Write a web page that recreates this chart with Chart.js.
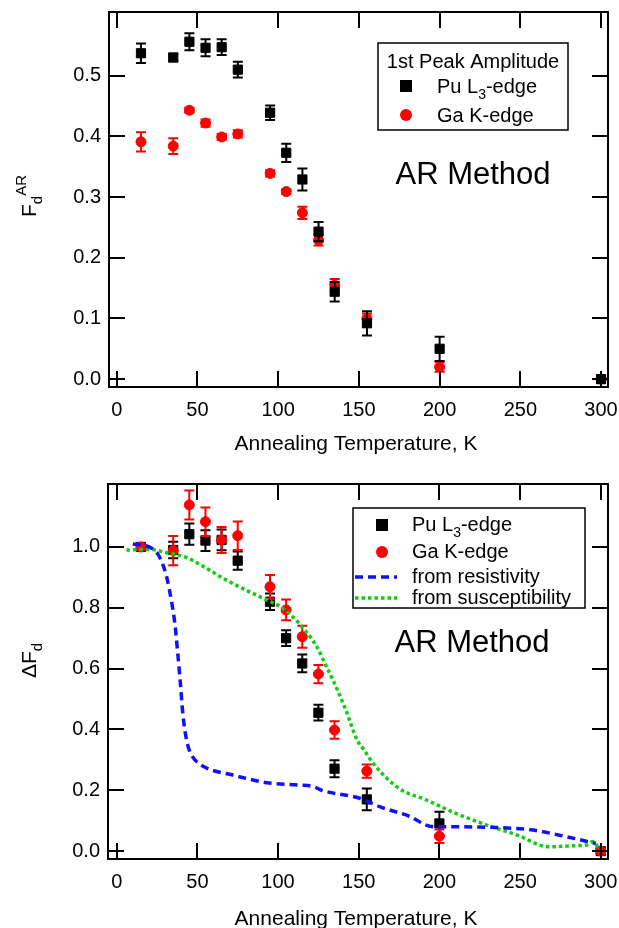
<!DOCTYPE html>
<html>
<head>
<meta charset="utf-8">
<title>AR Method - Fd vs annealing temperature</title>
<script src="https://cdn.jsdelivr.net/npm/chart.js@4.4.0/dist/chart.umd.min.js"></script>
<style>
  html, body { margin: 0; padding: 0; background: #fff; }
  .panel { position: absolute; left: 0; width: 619px; height: 464px; }
  #top { top: 0; }
  #bottom { top: 464px; }
</style>
</head>
<body>
<div class="panel" id="top"><canvas id="chartAmp" width="619" height="464"></canvas></div>
<div class="panel" id="bottom"><canvas id="chartDelta" width="619" height="464"></canvas></div>
<script>
// annealing temperatures (K), same for both edges
const temps = [15, 35, 45, 55, 65, 75, 95, 105, 115, 125, 135, 155, 200, 300];
const xTicks = [0, 50, 100, 150, 200, 250, 300];
const ampTicks = [0, 0.1, 0.2, 0.3, 0.4, 0.5];
const deltaTicks = [0, 0.2, 0.4, 0.6, 0.8, 1.0];

// top panel: 1st peak amplitude F_d^AR
const puAmp    = [0.537, 0.530, 0.556, 0.546, 0.547, 0.510, 0.439, 0.373, 0.329, 0.243, 0.144, 0.092, 0.050, 0.000];
const puAmpErr = [0.016, 0.006, 0.014, 0.014, 0.013, 0.013, 0.012, 0.015, 0.018, 0.016, 0.016, 0.020, 0.020, 0.006];
const gaAmp    = [0.391, 0.384, 0.443, 0.422, 0.399, 0.404, 0.339, 0.309, 0.274, 0.229, 0.155, 0.100, 0.020, 0.000];
const gaAmpErr = [0.016, 0.013, 0.004, 0.006, 0.005, 0.006, 0.005, 0.004, 0.010, 0.009, 0.010, 0.008, 0.008, 0.004];

// bottom panel: normalised ΔF_d
const puDelta    = [1.000, 0.990, 1.042, 1.021, 1.023, 0.955, 0.820, 0.700, 0.617, 0.455, 0.271, 0.170, 0.091, 0.000];
const puDeltaErr = [0.010, 0.027, 0.035, 0.034, 0.034, 0.030, 0.027, 0.026, 0.029, 0.026, 0.028, 0.036, 0.038, 0.008];
const gaDelta    = [1.000, 0.988, 1.138, 1.083, 1.023, 1.037, 0.869, 0.793, 0.705, 0.582, 0.398, 0.263, 0.049, 0.000];
const gaDeltaErr = [0.010, 0.048, 0.048, 0.047, 0.043, 0.047, 0.039, 0.034, 0.036, 0.030, 0.029, 0.022, 0.022, 0.008];

// comparison curves
const resT   = [10, 20, 25, 28, 31, 34, 36, 38, 39.5, 41, 43.5, 45.5, 48.5, 55, 72, 93, 113, 122, 127, 146, 151, 163, 182, 194, 204, 233, 258, 279, 297];
const resVal = [1.01, 1.0, 0.98, 0.95, 0.90, 0.82, 0.75, 0.64, 0.55, 0.45, 0.36, 0.325, 0.30, 0.275, 0.25, 0.225, 0.217, 0.212, 0.20, 0.18, 0.173, 0.146, 0.113, 0.082, 0.080, 0.078, 0.069, 0.047, 0.025];
const susT   = [6, 20, 31, 43, 53, 68, 82, 93, 103, 113, 124, 130, 134, 142, 149, 153, 159, 175, 192, 208, 229, 250, 262, 268, 285, 291, 295, 299];
const susVal = [0.99, 0.992, 0.981, 0.966, 0.938, 0.891, 0.853, 0.826, 0.798, 0.749, 0.672, 0.606, 0.563, 0.464, 0.365, 0.335, 0.288, 0.206, 0.168, 0.129, 0.086, 0.049, 0.020, 0.014, 0.018, 0.020, 0.031, 0.010];

const FONT = '"Liberation Sans", Arial, Helvetica, sans-serif';
Chart.defaults.font.family = FONT;
Chart.defaults.color = '#000';

const RED = '#ff0000', BLUE = '#1010ff', GREEN = '#11cc11';

function pts(xs, ys){ return xs.map((x, i) => ({ x, y: ys[i] })); }

// text with sub/superscript parts, left aligned from x
function richText(ctx, parts, x, y, size){
  parts.forEach(p => {
    const s = (p.sub || p.sup) ? Math.round(size * 0.7) : size;
    ctx.font = s + 'px ' + FONT;
    const dy = p.sub ? size * 0.28 : p.sup ? -size * 0.5 : 0;
    ctx.fillText(p.t, x, y + dy);
    x += ctx.measureText(p.t).width;
  });
  return x;
}

function drawLegend(ctx, lg){
  ctx.save();
  ctx.fillStyle = '#fff';
  ctx.fillRect(lg.box[0], lg.box[1], lg.box[2], lg.box[3]);
  ctx.strokeStyle = '#000';
  ctx.lineWidth = 1.5;
  ctx.strokeRect(lg.box[0], lg.box[1], lg.box[2], lg.box[3]);
  ctx.textAlign = 'left';
  ctx.textBaseline = 'alphabetic';
  if (lg.title){
    ctx.fillStyle = '#000';
    ctx.font = '20px ' + FONT;
    ctx.textAlign = 'center';
    ctx.fillText(lg.title, lg.box[0] + lg.box[2] / 2, lg.titleY);
    ctx.textAlign = 'left';
  }
  lg.items.forEach(it => {
    const my = it.my;
    if (it.kind === 'rect'){
      ctx.fillStyle = it.color;
      ctx.fillRect(lg.mx - 6, my - 6, 12, 12);
    } else if (it.kind === 'circle'){
      ctx.fillStyle = it.color;
      ctx.beginPath(); ctx.arc(lg.mx, my, 6, 0, Math.PI * 2); ctx.fill();
    } else {
      ctx.strokeStyle = it.color;
      ctx.lineWidth = 3.5;
      ctx.setLineDash(it.dash);
      ctx.beginPath(); ctx.moveTo(lg.lx[0], my); ctx.lineTo(lg.lx[1], my); ctx.stroke();
      ctx.setLineDash([]);
    }
    ctx.fillStyle = '#000';
    richText(ctx, it.label, lg.tx, it.ty, 20);
  });
  ctx.restore();
}

// error bars, boxed frame with inward ticks, titles, legend and note
const decor = {
  id: 'decor',
  beforeDatasetDraw(chart, args){
    const ds = chart.data.datasets[args.index];
    if (!ds.errors) return;
    const { ctx, scales: { x, y } } = chart;
    ctx.save();
    ctx.strokeStyle = ds.backgroundColor;
    ctx.lineWidth = 2;
    ctx.beginPath();
    ds.data.forEach((p, i) => {
      const px = x.getPixelForValue(p.x);
      const y1 = y.getPixelForValue(p.y + ds.errors[i]);
      const y2 = y.getPixelForValue(p.y - ds.errors[i]);
      ctx.moveTo(px, y1); ctx.lineTo(px, y2);
      ctx.moveTo(px - 5, y1); ctx.lineTo(px + 5, y1);
      ctx.moveTo(px - 5, y2); ctx.lineTo(px + 5, y2);
    });
    ctx.stroke();
    ctx.restore();
  },
  afterDraw(chart, args, o){
    const { ctx, chartArea: a, scales: { x, y } } = chart;
    ctx.save();
    ctx.strokeStyle = '#000';
    ctx.lineWidth = 2;
    ctx.strokeRect(a.left, a.top, a.right - a.left, a.bottom - a.top);
    ctx.beginPath();
    x.ticks.forEach(t => {
      const px = Math.round(x.getPixelForValue(t.value));
      ctx.moveTo(px, a.bottom); ctx.lineTo(px, a.bottom - 16);
      ctx.moveTo(px, a.top); ctx.lineTo(px, a.top + 16);
    });
    y.ticks.forEach(t => {
      const py = Math.round(y.getPixelForValue(t.value));
      ctx.moveTo(a.left, py); ctx.lineTo(a.left + 16, py);
      ctx.moveTo(a.right, py); ctx.lineTo(a.right - 16, py);
    });
    ctx.stroke();

    ctx.fillStyle = '#000';
    ctx.textBaseline = 'alphabetic';
    ctx.textAlign = 'center';
    ctx.font = '21px ' + FONT;
    ctx.fillText('Annealing Temperature, K', o.xTitle[0], o.xTitle[1]);

    // rotated y title
    ctx.save();
    ctx.translate(o.yTitle[0], o.yTitle[1]);
    ctx.rotate(-Math.PI / 2);
    ctx.textAlign = 'left';
    richText(ctx, o.yParts, 0, 0, 21);
    ctx.restore();

    ctx.textAlign = 'center';
    ctx.font = '31px ' + FONT;
    ctx.fillText('AR Method', o.note[0], o.note[1]);
    ctx.restore();

    drawLegend(ctx, o.legend);
  }
};

function xAxis(min, max, h){
  return {
    type: 'linear', min, max,
    grid: { display: false, drawTicks: false }, border: { display: false },
    ticks: { font: { size: 20 }, padding: 11, color: '#000', maxRotation: 0, autoSkip: false },
    afterBuildTicks: s => { s.ticks = xTicks.map(v => ({ value: v })); },
    afterFit: s => { s.height = h; s.paddingLeft = 0; s.paddingRight = 0; }
  };
}

function yAxis(min, max, ticks, w){
  return {
    type: 'linear', min, max,
    grid: { display: false, drawTicks: false }, border: { display: false },
    ticks: { font: { size: 20 }, padding: 8, color: '#000', autoSkip: false, callback: v => v.toFixed(1) },
    afterBuildTicks: s => { s.ticks = ticks.map(v => ({ value: v })); },
    afterFit: s => { s.width = w; s.paddingTop = 0; s.paddingBottom = 0; }
  };
}

const base = { responsive: false, animation: false, devicePixelRatio: 1, events: [] };

new Chart(document.getElementById('chartAmp'), {
  type: 'scatter',
  data: { datasets: [
    { label: 'Pu L3-edge', data: pts(temps, puAmp), errors: puAmpErr, order: 0,
      pointStyle: 'rect', pointRadius: 6.5, backgroundColor: '#000', borderColor: '#000', borderWidth: 1 },
    { label: 'Ga K-edge', data: pts(temps, gaAmp), errors: gaAmpErr, order: 1,
      pointStyle: 'circle', pointRadius: 5, backgroundColor: RED, borderColor: RED, borderWidth: 1 }
  ]},
  options: Object.assign({}, base, {
    layout: { padding: { top: 12, right: 11, left: 0, bottom: 0 } },
    plugins: {
      legend: { display: false }, tooltip: { enabled: false },
      decor: {
        xTitle: [356, 450],
        yTitle: [36, 217],
        yParts: [{ t: 'F' }, { t: 'd', sub: true }, { t: 'AR', sup: true }],
        note: [473, 184],
        legend: {
          box: [378, 43, 190, 87], title: '1st Peak Amplitude', titleY: 68,
          mx: 406, tx: 437,
          items: [
            { kind: 'rect', color: '#000', my: 86, ty: 93, label: [{ t: 'Pu L' }, { t: '3', sub: true }, { t: '-edge' }] },
            { kind: 'circle', color: RED, my: 115, ty: 122, label: [{ t: 'Ga K-edge' }] }
          ]
        }
      }
    },
    scales: { x: xAxis(-4.8, 304.3, 77), y: yAxis(-0.013, 0.605, ampTicks, 109) }
  }),
  plugins: [decor]
});

new Chart(document.getElementById('chartDelta'), {
  type: 'scatter',
  data: { datasets: [
    { label: 'from resistivity', data: pts(resT, resVal), showLine: true, order: 0,
      pointRadius: 0, borderColor: BLUE, borderWidth: 3.5, borderDash: [8, 5], cubicInterpolationMode: 'monotone' },
    { label: 'from susceptibility', data: pts(susT, susVal), showLine: true, order: 0,
      pointRadius: 0, borderColor: GREEN, borderWidth: 3.5, borderDash: [3.5, 3], cubicInterpolationMode: 'monotone' },
    { label: 'Ga K-edge', data: pts(temps, gaDelta), errors: gaDeltaErr, order: 1,
      pointStyle: 'circle', pointRadius: 5, backgroundColor: RED, borderColor: RED, borderWidth: 1 },
    { label: 'Pu L3-edge', data: pts(temps, puDelta), errors: puDeltaErr, order: 2,
      pointStyle: 'rect', pointRadius: 6.5, backgroundColor: '#000', borderColor: '#000', borderWidth: 1 }
  ]},
  options: Object.assign({}, base, {
    layout: { padding: { top: 20, right: 11, left: 0, bottom: 0 } },
    plugins: {
      legend: { display: false }, tooltip: { enabled: false },
      decor: {
        xTitle: [356, 461],
        yTitle: [36, 214],
        yParts: [{ t: 'ΔF' }, { t: 'd', sub: true }],
        note: [472, 188],
        legend: {
          box: [353, 44, 232, 100], title: null,
          mx: 382, tx: 412, lx: [355, 397],
          items: [
            { kind: 'rect', color: '#000', my: 61, ty: 67, label: [{ t: 'Pu L' }, { t: '3', sub: true }, { t: '-edge' }] },
            { kind: 'circle', color: RED, my: 88, ty: 94, label: [{ t: 'Ga K-edge' }] },
            { kind: 'line', color: BLUE, dash: [8, 5], my: 113, ty: 119, label: [{ t: 'from resistivity' }] },
            { kind: 'line', color: GREEN, dash: [3.5, 3], my: 134, ty: 140, label: [{ t: 'from susceptibility' }] }
          ]
        }
      }
    },
    scales: { x: xAxis(-5.4, 304.5, 69), y: yAxis(-0.026, 1.207, deltaTicks, 108) }
  }),
  plugins: [decor]
});
</script>
</body>
</html>
